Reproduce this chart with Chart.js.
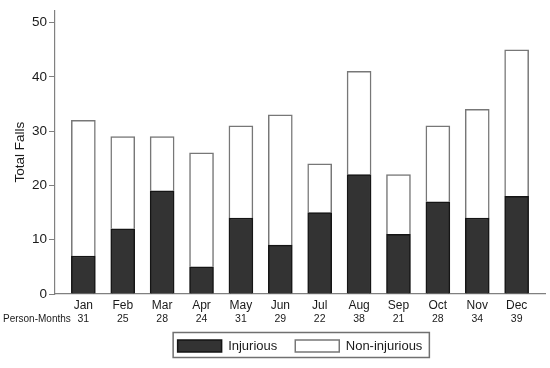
<!DOCTYPE html>
<html>
<head>
<meta charset="utf-8">
<script src="https://cdn.jsdelivr.net/npm/chart.js@4.4.0/dist/chart.umd.min.js"></script>
<style>
    html, body { margin: 0; padding: 0; background: #fff; }
    #wrap { width: 550px; height: 368px; }
</style>
</head>
<body>
<div id="wrap"><canvas id="fallsChart"></canvas></div>
<script>
const months       = ['Jan', 'Feb', 'Mar', 'Apr', 'May', 'Jun', 'Jul', 'Aug', 'Sep', 'Oct', 'Nov', 'Dec'];
const personMonths = [31, 25, 28, 24, 31, 29, 22, 38, 21, 28, 34, 39];
const injurious    = [7, 12, 19, 5, 14, 9, 15, 22, 11, 17, 14, 18];
const nonInjurious = [25, 17, 10, 21, 17, 24, 9, 19, 11, 14, 20, 27];
const yTicks       = [0, 10, 20, 30, 40, 50];

const TEXT = '#1a1a1a';
const AXIS = '#808080';

Chart.defaults.font.family = '"Liberation Sans", Arial, sans-serif';
Chart.defaults.color = TEXT;

function points(values) {
    return values.map((v, i) => ({ x: i, y: v }));
}

// second tick row + legend frame
const extras = {
    id: 'extras',
    afterDraw(chart) {
        const ctx = chart.ctx;
        const x = chart.scales.x;
        const rowY = chart.chartArea.bottom + 25;

        ctx.save();
        ctx.fillStyle = TEXT;
        ctx.textBaseline = 'middle';
        ctx.textAlign = 'center';
        ctx.font = '10.5px "Liberation Sans", Arial, sans-serif';
        personMonths.forEach((pm, i) => {
            ctx.fillText(String(pm), x.getPixelForValue(i), rowY);
        });
        ctx.textAlign = 'left';
        ctx.font = '10px "Liberation Sans", Arial, sans-serif';
        ctx.fillText('Person-Months', 3, rowY);

        const hb = chart.legend.legendHitBoxes;
        if (hb && hb.length) {
            const first = hb[0];
            const last = hb[hb.length - 1];
            const left = first.left - 4.5;
            const right = last.left + last.width + 7;
            const top = first.top - 7;
            ctx.strokeStyle = '#707070';
            ctx.lineWidth = 1.5;
            ctx.strokeRect(left, top, right - left, 25);
        }
        ctx.restore();
    }
};

new Chart(document.getElementById('fallsChart'), {
    type: 'bar',
    data: {
        datasets: [
            {
                label: 'Injurious',
                data: points(injurious),
                backgroundColor: '#333333',
                borderColor: '#151515',
                borderWidth: 1.5,
                barThickness: 24
            },
            {
                label: 'Non-injurious',
                data: points(nonInjurious),
                backgroundColor: '#ffffff',
                borderColor: '#777777',
                borderWidth: 1.5,
                barThickness: 24
            }
        ]
    },
    options: {
        responsive: true,
        maintainAspectRatio: false,
        animation: false,
        layout: {
            padding: { top: 5, right: 5, bottom: 5.5, left: 0 }
        },
        plugins: {
            tooltip: { enabled: false },
            legend: {
                position: 'bottom',
                fullSize: false,
                labels: {
                    boxWidth: 44,
                    boxHeight: 12,
                    padding: 18,
                    color: TEXT,
                    font: { size: 13 }
                }
            }
        },
        scales: {
            x: {
                type: 'linear',
                stacked: true,
                offset: false,
                min: -0.72,
                max: 11.72,
                grid: { display: false, drawTicks: false },
                border: { color: AXIS, width: 1.2 },
                afterBuildTicks: (scale) => {
                    scale.ticks = months.map((m, i) => ({ value: i }));
                },
                afterFit: (scale) => { scale.height = 27.5; },
                ticks: {
                    autoSkip: false,
                    maxRotation: 0,
                    padding: 4,
                    color: TEXT,
                    font: { size: 12 },
                    callback: (v) => months[v]
                }
            },
            y: {
                stacked: true,
                min: 0,
                max: 52.3,
                afterBuildTicks: (scale) => {
                    scale.ticks = yTicks.map(v => ({ value: v }));
                },
                afterFit: (scale) => { scale.width = 55; },
                grid: {
                    drawOnChartArea: false,
                    drawTicks: true,
                    tickLength: 6,
                    color: AXIS
                },
                border: { color: AXIS, width: 1.2 },
                ticks: {
                    padding: 2,
                    color: TEXT,
                    font: { size: 13.5 }
                },
                title: {
                    display: true,
                    text: 'Total Falls',
                    color: TEXT,
                    font: { size: 13.5 },
                    padding: { top: 12, bottom: 0 }
                }
            }
        }
    },
    plugins: [extras]
});
</script>
</body>
</html>
